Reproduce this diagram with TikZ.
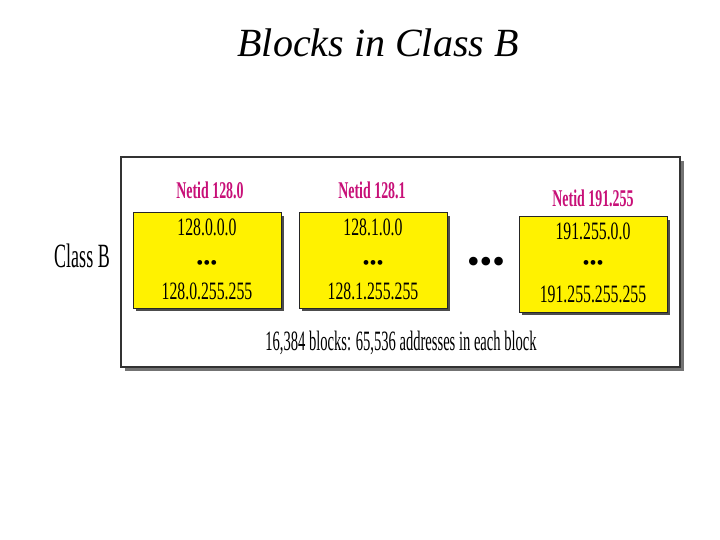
\documentclass[tikz,border=0pt]{standalone}
\usepackage{fontspec}
\setmainfont{Liberation Serif}
\newfontfamily\addrfont[FakeStretch=0.63]{Liberation Serif}
\newfontfamily\labelfont[FakeStretch=0.58]{Liberation Serif}
\newfontfamily\countfont[FakeStretch=0.52]{Liberation Serif}
\newfontfamily\classfont[FakeStretch=0.53]{Liberation Serif}
\usetikzlibrary{positioning,shadows,calc}
\definecolor{netidpink}{RGB}{200,16,120}
\definecolor{blockyellow}{RGB}{255,242,0}
\tikzset{
  blockbox/.style={draw=black!85, line width=1pt, fill=blockyellow,
    minimum width=148pt, minimum height=95pt, inner sep=0pt,
    drop shadow={shadow xshift=3pt, shadow yshift=-3pt, fill=black!70, opacity=1}},
  netid/.style={text=netidpink, inner sep=0pt, font=\labelfont\bfseries\fontsize{24}{26}\selectfont},
  addr/.style={inner sep=0pt, font=\addrfont\fontsize{25}{27}\selectfont},
  dots/.style={inner sep=0pt, font=\fontsize{20}{22}\selectfont}
}

\begin{document}
\begin{tikzpicture}[x=1pt, y=-1pt]
\useasboundingbox (0,0) rectangle (720,540);

% title
\node[font=\itshape\fontsize{40}{44}\selectfont, inner sep=0pt] (title) at (378,43) {Blocks in Class B};

% outer frame
\draw[draw=black!80, line width=1.5pt, fill=white,
  drop shadow={shadow xshift=4pt, shadow yshift=-4pt, fill=black!55, opacity=1}]
  (121,157) rectangle (680,367);
\node[inner sep=0pt, font=\classfont\fontsize{34}{36}\selectfont] (classb) at (82,256) {Class B};

% blocks
\node[blockbox] (b1) at (207,260.5) {};
\node[blockbox] (b2) at (373,260.5) {};
\node[blockbox] (b3) at (593,264.5) {};

\node[netid] (n1) at (210,190) {Netid 128.0};
\node[netid] (n2) at (372,190) {Netid 128.1};
\node[netid] (n3) at (593,198) {Netid 191.255};

\node[addr] (b1first) at (207,227) {128.0.0.0};
\node[dots] (b1dots) at (207,264.5) {•••};
\node[addr] (b1last) at (207,291.5) {128.0.255.255};

\node[addr] (b2first) at (373,227) {128.1.0.0};
\node[dots] (b2dots) at (373,264.5) {•••};
\node[addr] (b2last) at (373,291.5) {128.1.255.255};

\node[addr] (b3first) at (593,231) {191.255.0.0};
\node[dots] (b3dots) at (593,264.5) {•••};
\node[addr] (b3last) at (593,294) {191.255.255.255};

% gap between blocks
\node[inner sep=0pt, font=\fontsize{36}{38}\selectfont] (gap) at (486,265) {•••};

\node[inner sep=0pt, anchor=base, font=\countfont\fontsize{28}{30}\selectfont] (count) at (401,350) {16,384 blocks: 65,536 addresses in each block};
\end{tikzpicture}
\end{document}
